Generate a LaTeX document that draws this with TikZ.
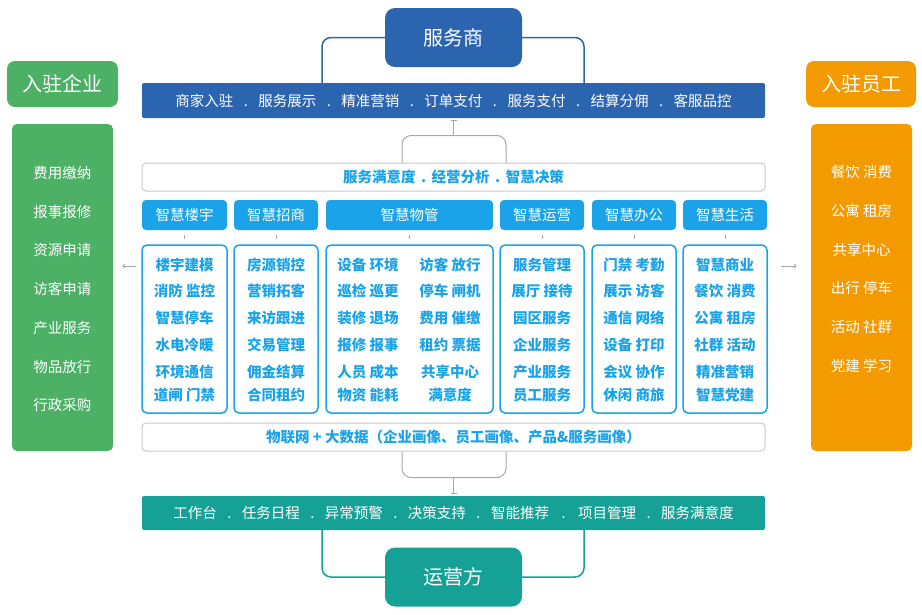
\documentclass[tikz,border=0pt]{standalone}
\usepackage{fontspec}
\setmainfont{Noto Sans CJK SC}
\usetikzlibrary{arrows.meta}
\definecolor{dblue}{HTML}{2C65AF}
\definecolor{lblue}{HTML}{1AA3E8}
\definecolor{pgreen}{HTML}{4CB165}
\definecolor{porange}{HTML}{F39A00}
\definecolor{pteal}{HTML}{16A197}
\definecolor{gbord}{HTML}{C9C9C9}
\definecolor{gline}{HTML}{A8A8A8}
\newcommand{\dsep}[1]{\hspace{#1}.\hspace{#1}}
\begin{document}
\begin{tikzpicture}[x=1pt,y=-1pt,
  bigbox/.style={rounded corners=10pt, text=white, font=\fontsize{20}{24}\selectfont, minimum width=137pt, minimum height=59pt, inner sep=0pt},
  bar/.style={rounded corners=2pt, minimum width=623pt, minimum height=35pt, inner sep=0pt, text=white, font=\fontsize{14.5}{17}\selectfont},
  wbox/.style={draw=gbord, line width=1pt, fill=white, rounded corners=4pt, minimum width=623pt, minimum height=28pt, inner sep=0pt, text=lblue, font=\bfseries\fontsize{14.5}{17}\selectfont},
  label/.style={rounded corners=8pt, text=white, font=\fontsize{20}{24}\selectfont, minimum height=46pt, inner sep=0pt},
  panel/.style={rounded corners=5pt, minimum width=101pt, minimum height=327pt, inner sep=0pt},
  ptext/.style={text=white, font=\fontsize{14.5}{17}\selectfont, inner sep=0pt},
  head/.style={fill=lblue, rounded corners=4pt, minimum height=30pt, inner sep=0pt, text=white, font=\fontsize{14.5}{17}\selectfont},
  cbox/.style={draw=lblue, line width=1.5pt, fill=white, rounded corners=5pt, minimum height=168pt, inner sep=0pt},
  ctext/.style={text=lblue, font=\bfseries\fontsize{14.5}{17}\selectfont, inner sep=0pt},
  tick/.style={draw=gline, line width=0.8pt},
  conn/.style={line width=1.5pt, rounded corners=9pt},
  gconn/.style={draw=gline, line width=1pt, rounded corners=9pt}
]
\useasboundingbox (0,0) rectangle (922,614);

% top / bottom main boxes
\node[bigbox, fill=dblue] (fws) at (453.5,37.5) {服务商};
\node[bar, fill=dblue] (topbar) at (453.5,100.5) {商家入驻\dsep{10.5pt}服务展示\dsep{10.5pt}精准营销\dsep{10.5pt}订单支付\dsep{10.5pt}服务支付\dsep{10.5pt}结算分佣\dsep{10.5pt}客服品控};
\draw[conn, draw=dblue] (fws.west) -| ([xshift=-131.5pt]topbar.north);
\draw[conn, draw=dblue] (fws.east) -| ([xshift=130.5pt]topbar.north);

\node[wbox] (w1) at (453.5,177) {服务满意度\dsep{5.5pt}经营分析\dsep{5.5pt}智慧决策};
\draw[gconn] ([xshift=-51.5pt]w1.north) -- ++(0,-27) -- ++(104,0) -- ++(0,27);
\coordinate (u1) at (453.5,136);
\draw[draw=gline, line width=0.8pt, -{Bar[width=6pt]}] (u1) -- ([yshift=-2pt]topbar.south);

\node[wbox] (w2) at (453.5,437) {物联网 + 大数据（企业画像、员工画像、产品\&服务画像）};
\draw[gconn] ([xshift=-51.5pt]w2.south) -- ++(0,26) -- ++(104,0) -- ++(0,-26);
\coordinate (d1) at (453.5,477);

\node[bar, fill=pteal, minimum height=34pt] (botbar) at (453.5,513) {工作台\dsep{10.5pt}任务日程\dsep{10.5pt}异常预警\dsep{10.5pt}决策支持\dsep{10.5pt}智能推荐\dsep{12.5pt}项目管理\dsep{10.5pt}服务满意度};
\draw[draw=gline, line width=0.8pt, -{Bar[width=6pt]}] (d1) -- ([yshift=2pt]botbar.north);
\node[bigbox, fill=pteal] (ops) at (453.5,577) {运营方};
\draw[conn, draw=pteal] ([xshift=-131.5pt]botbar.south) |- (ops.west);
\draw[conn, draw=pteal] ([xshift=130.5pt]botbar.south) |- (ops.east);

% side labels and panels
\node[label, fill=pgreen, minimum width=111pt] (lent) at (62.5,84) {入驻企业};
\node[label, fill=porange, minimum width=110pt] (lemp) at (861,84) {入驻员工};
\node[panel, fill=pgreen] (pl) at (62.5,287.5) {};
\node[panel, fill=porange] (pr) at (861.5,287.5) {};
\foreach \t [count=\i] in {费用缴纳,报事报修,资源申请,访客申请,产业服务,物品放行,行政采购}
  \node[ptext] (pl\i) at (62.5,{173+38.7*(\i-1)}) {\t};
\foreach \t [count=\i] in {餐饮 消费,公寓 租房,共享中心,出行 停车,活动 社群,党建 学习}
  \node[ptext] (pr\i) at (861.5,{172+38.8*(\i-1)}) {\t};

% modules
\foreach \n/\cx/\w/\t in {m1/184.5/85/智慧楼宇, m2/276/84/智慧招商, m3/409.5/167/智慧物管, m4/542/84/智慧运营, m5/634/84/智慧办公, m6/725/84/智慧生活} {
  \node[head, minimum width=\w pt] (\n h) at (\cx,215) {\t};
  \node[cbox, minimum width=\w pt] (\n c) at (\cx,329) {};
  \draw[tick] ([yshift=-5pt]\n h.south) -- ([yshift=5pt]\n c.north);
}
\def\ys{{265,291,318,345,372,395}}
\foreach \t [count=\i] in {楼宇建模,消防 监控,智慧停车,水电冷暖,环境通信,道闸 门禁}
  \node[ctext] (a\i) at (184.5,{\ys[\i-1]}) {\t};
\foreach \t [count=\i] in {房源销控,营销拓客,来访跟进,交易管理,佣金结算,合同租约}
  \node[ctext] (b\i) at (276,{\ys[\i-1]}) {\t};
\foreach \t [count=\i] in {设备 环境,巡检 巡更,装修 退场,报修 报事,人员 成本,物资 能耗}
  \node[ctext] (c\i) at (368,{\ys[\i-1]}) {\t};
\foreach \t [count=\i] in {访客 放行,停车 闸机,费用 催缴,租约 票据,共享中心,满意度}
  \node[ctext] (d\i) at (450,{\ys[\i-1]}) {\t};
\foreach \t [count=\i] in {服务管理,展厅 接待,园区服务,企业服务,产业服务,员工服务}
  \node[ctext] (e\i) at (542,{\ys[\i-1]}) {\t};
\foreach \t [count=\i] in {门禁 考勤,展示 访客,通信 网络,设备 打印,会议 协作,休闲 商旅}
  \node[ctext] (f\i) at (634,{\ys[\i-1]}) {\t};
\foreach \t [count=\i] in {智慧商业,餐饮 消费,公寓 租房,社群 活动,精准营销,智慧党建}
  \node[ctext] (g\i) at (725,{\ys[\i-1]}) {\t};

% side arrows
\coordinate (la) at (122,266);
\coordinate (ra) at (797,266);
\draw[draw=gline, line width=0.8pt, -{Straight Barb[length=2.5pt,width=4pt]}] ([xshift=-5pt]m1c.west |- la) -- (la);
\draw[draw=gline, line width=0.8pt, -{Straight Barb[length=2.5pt,width=4pt]}] ([xshift=13pt]m6c.east |- ra) -- (ra);
\end{tikzpicture}
\end{document}
